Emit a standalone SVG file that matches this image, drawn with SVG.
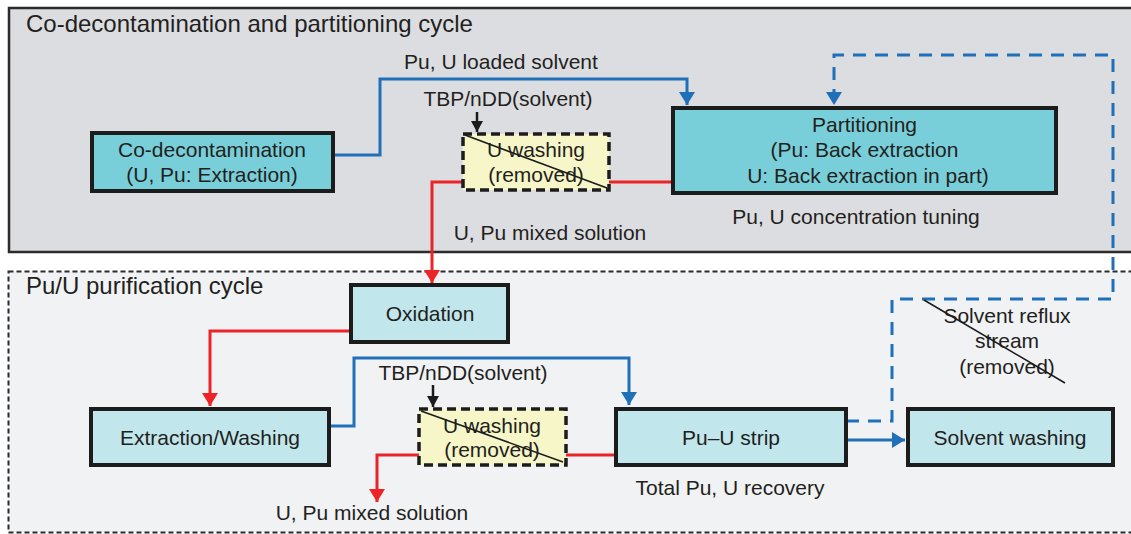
<svg xmlns="http://www.w3.org/2000/svg" width="1131" height="534" viewBox="0 0 1131 534">
  <defs>
    <style>
      text { font-family: "Liberation Sans", Arial, sans-serif; fill: #231f20; }
      .lbl { font-size: 21px; text-anchor: middle; }
      .title { font-size: 24px; }
      .boxT { fill: #79cfd9; stroke: #1c1c1c; stroke-width: 4; }
      .boxB { fill: #c1e6ec; stroke: #1c1c1c; stroke-width: 4; }
      .wash { fill: #f6f6c9; stroke: #1c1c1c; stroke-width: 3.5; stroke-dasharray: 9 5; }
      .blue { fill: none; stroke: #1f70b8; stroke-width: 3; }
      .blueD { fill: none; stroke: #1f70b8; stroke-width: 3; stroke-dasharray: 13 9; }
      .red { fill: none; stroke: #ec2428; stroke-width: 3; }
      .blk { fill: none; stroke: #1c1c1c; stroke-width: 2.5; }
      .strike { stroke: #1c1c1c; stroke-width: 1.6; }
    </style>
    <marker id="ab" viewBox="0 0 13 16" refX="13" refY="8" markerWidth="13" markerHeight="16" markerUnits="userSpaceOnUse" orient="auto">
      <path d="M0,0 L13,8 L0,16 z" fill="#1f70b8"/>
    </marker>
    <marker id="ar" viewBox="0 0 13 16" refX="13" refY="8" markerWidth="13" markerHeight="16" markerUnits="userSpaceOnUse" orient="auto">
      <path d="M0,0 L13,8 L0,16 z" fill="#ec2428"/>
    </marker>
    <marker id="ak" viewBox="0 0 11 12" refX="11" refY="6" markerWidth="11" markerHeight="12" markerUnits="userSpaceOnUse" orient="auto">
      <path d="M0,0 L11,6 L0,12 z" fill="#1c1c1c"/>
    </marker>
  </defs>

  <rect width="1131" height="534" fill="#ffffff"/>

  <g id="panel-top">
    <rect x="9" y="8" width="1140" height="244" fill="#dcdde0" stroke="#2b2b2b" stroke-width="2.5"/>
    <text class="title" x="26" y="32">Co-decontamination and partitioning cycle</text>
  </g>
  <g id="panel-bottom">
    <rect x="8.5" y="271.5" width="1140" height="261" fill="#f1f2f4" stroke="#2b2b2b" stroke-width="2" stroke-dasharray="5 3"/>
    <text class="title" x="26" y="294">Pu/U purification cycle</text>
  </g>

  <g id="connectors">
    <path class="blue" d="M333,155 H380 V79 H687 V105" marker-end="url(#ab)"/>
    <path class="blk" d="M477,112 V132" marker-end="url(#ak)"/>
    <path class="red" d="M673,182 H609"/>
    <path class="red" d="M463,182 H432 V283" marker-end="url(#ar)"/>
    <path class="blueD" d="M846,421 H892 V299 H1113 V55 H834 V105" marker-end="url(#ab)"/>
    <path class="red" d="M351,331 H210 V406" marker-end="url(#ar)"/>
    <path class="blue" d="M329,426 H354 V358 H629 V405" marker-end="url(#ab)"/>
    <path class="blk" d="M433,385 V407" marker-end="url(#ak)"/>
    <path class="red" d="M616,455 H566"/>
    <path class="red" d="M419,455 H377 V502" marker-end="url(#ar)"/>
    <path class="blue" d="M846,440 H905" marker-end="url(#ab)"/>
  </g>

  <g id="label-loaded">
    <text class="lbl" x="501" y="69">Pu, U loaded solvent</text>
  </g>
  <g id="label-tbp-top">
    <text class="lbl" x="508" y="106">TBP/nDD(solvent)</text>
  </g>
  <g id="label-mixed-top">
    <text class="lbl" x="550" y="240">U, Pu mixed solution</text>
  </g>
  <g id="label-tuning">
    <text class="lbl" x="856" y="224">Pu, U concentration tuning</text>
  </g>

  <g id="node-codecon">
    <rect class="boxT" x="92" y="133" width="241" height="58"/>
    <text class="lbl" x="212" y="157">Co-decontamination</text>
    <text class="lbl" x="212" y="182">(U, Pu: Extraction)</text>
  </g>

  <g id="node-uwash-top">
    <rect class="wash" x="463" y="134" width="146" height="56"/>
    <text class="lbl" x="536" y="157">U washing</text>
    <text class="lbl" x="536" y="182">(removed)</text>
    <line class="strike" x1="465" y1="135" x2="607" y2="188"/>
  </g>

  <g id="node-partitioning">
    <rect class="boxT" x="673" y="108" width="383" height="85"/>
    <text class="lbl" x="864.5" y="132">Partitioning</text>
    <text class="lbl" x="864.5" y="157">(Pu: Back extraction</text>
    <text class="lbl" x="868" y="183">U: Back extraction in part)</text>
  </g>

  <g id="node-oxidation">
    <rect class="boxB" x="351" y="285" width="157" height="57"/>
    <text class="lbl" x="430" y="321">Oxidation</text>
  </g>

  <g id="node-extraction">
    <rect class="boxB" x="91" y="409" width="238" height="56"/>
    <text class="lbl" x="210" y="445">Extraction/Washing</text>
  </g>

  <g id="label-tbp-bottom">
    <text class="lbl" x="463" y="380">TBP/nDD(solvent)</text>
  </g>

  <g id="node-uwash-bottom">
    <rect class="wash" x="419" y="409" width="147" height="56"/>
    <text class="lbl" x="492" y="433">U washing</text>
    <text class="lbl" x="492" y="457">(removed)</text>
    <line class="strike" x1="421" y1="411" x2="563" y2="462"/>
  </g>

  <g id="label-mixed-bottom">
    <text class="lbl" x="372" y="520">U, Pu mixed solution</text>
  </g>

  <g id="node-strip">
    <rect class="boxB" x="616" y="409" width="230" height="56"/>
    <text class="lbl" x="731" y="445">Pu–U strip</text>
  </g>
  <g id="label-recovery">
    <text class="lbl" x="730" y="495">Total Pu, U recovery</text>
  </g>

  <g id="node-solvent-washing">
    <rect class="boxB" x="908" y="409" width="205" height="56"/>
    <text class="lbl" x="1010" y="445">Solvent washing</text>
  </g>

  <g id="label-reflux">
    <text class="lbl" x="1007" y="323">Solvent reflux</text>
    <text class="lbl" x="1007" y="348">stream</text>
    <text class="lbl" x="1007" y="374">(removed)</text>
    <line class="strike" x1="924" y1="300" x2="1065" y2="383"/>
  </g>
</svg>
